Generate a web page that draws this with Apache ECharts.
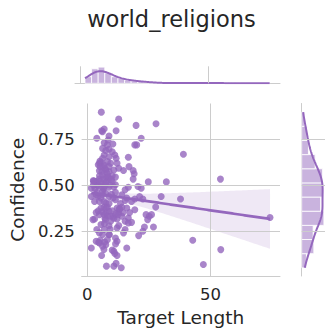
<!DOCTYPE html>
<html><head><meta charset="utf-8">
<script src="https://cdn.jsdelivr.net/npm/echarts@6/dist/echarts.min.js"></script>
<style>html,body{margin:0;padding:0;background:#fff}#c{width:332px;height:335px}</style>
</head><body><div id="c"></div>
<script>
const chartTitle = 'world_religions';
const xLabel = 'Target Length';
const yLabel = 'Confidence';
const xTicks = [0, 50];
const yTicks = [0.25, 0.50, 0.75];

const targetLength = [
5.73,12.77,19.81,27.89,5.86,6.90,11.72,8.85,3.90,21.89,
6.90,8.20,10.42,19.29,20.07,6.25,7.55,10.16,8.85,6.90,
8.85,11.20,11.72,16.68,38.98,6.25,5.59,8.20,9.51,12.11,
16.94,8.85,6.90,4.94,7.55,8.85,12.77,14.72,18.63,19.03,
10.81,6.25,10.16,11.46,4.94,8.85,18.63,7.55,3.64,5.59,
7.55,10.16,11.46,16.68,24.76,32.07,53.98,21.89,1.68,4.29,
6.90,8.85,20.59,1.68,3.64,6.25,8.85,11.46,14.07,15.37,
16.03,19.29,22.55,29.98,37.81,21.24,4.94,7.55,11.46,17.98,
27.76,15.37,5.59,8.20,12.11,14.07,16.03,19.29,8.85,12.77,
3.64,4.94,8.20,14.07,16.68,23.85,25.16,26.07,2.99,6.90,
2.33,9.51,12.11,15.37,16.68,24.50,5.59,8.85,17.98,3.90,
12.11,15.37,23.20,26.85,22.55,6.90,6.25,8.85,14.72,20.85,
42.76,4.94,3.64,4.94,8.20,11.46,12.11,1.68,7.55,4.68,
6.25,10.16,10.81,16.03,11.20,12.11,5.86,54.11,7.81,10.81,
11.72,13.81,47.06,74.06,
6.2,8.5,
5.2,6.5,7.2,5.0,5.2,4.5,8.0,6.0,
5.0,6.8,7.9,9.2,4.2,5.8,6.6,7.3,8.5,9.8,10.8,2.6,3.0,5.3,2.5,3.2,2.5,
4.0,5.5,6.8,7.5,8.9,9.8,10.5,4.3,3.0,13.5,6.2,
13.2,4.5,10.5,6.0,6.8,7.2,7.6,7.7,9.5,10.2,10.8,11.6,13.0,14.5,12.5,17.2,7.4,
12.8,7.0,9.3,9.0,
5.3,6.8,11.5,7.1
];
const confidence = [
0.896,0.858,0.824,0.833,0.795,0.804,0.795,0.766,0.754,0.754,
0.730,0.718,0.723,0.718,0.718,0.699,0.687,0.681,0.694,0.663,
0.654,0.663,0.645,0.651,0.667,0.645,0.622,0.627,0.618,0.618,
0.600,0.600,0.609,0.577,0.582,0.573,0.591,0.579,0.579,0.561,
0.582,0.555,0.550,0.543,0.532,0.537,0.532,0.543,0.519,0.510,
0.514,0.519,0.501,0.488,0.517,0.517,0.532,0.483,0.483,0.496,
0.488,0.488,0.492,0.438,0.447,0.447,0.438,0.460,0.447,0.474,
0.429,0.424,0.424,0.438,0.424,0.438,0.411,0.402,0.420,0.411,
0.380,0.416,0.375,0.380,0.375,0.380,0.375,0.366,0.357,0.351,
0.351,0.339,0.333,0.330,0.321,0.339,0.330,0.339,0.315,0.339,
0.312,0.303,0.315,0.303,0.294,0.312,0.285,0.279,0.297,0.258,
0.267,0.258,0.272,0.272,0.249,0.258,0.231,0.231,0.240,0.225,
0.200,0.240,0.194,0.185,0.203,0.212,0.194,0.158,0.176,0.189,
0.167,0.146,0.140,0.158,0.128,0.117,0.117,0.149,0.059,0.059,
0.074,0.050,0.068,0.323,
0.79,0.745,
0.63,0.60,0.59,0.62,0.60,0.61,0.565,0.575,
0.55,0.53,0.52,0.50,0.50,0.49,0.48,0.50,0.545,0.53,0.49,0.52,0.52,0.52,0.525,0.48,0.50,
0.46,0.43,0.41,0.455,0.40,0.45,0.43,0.44,0.41,0.40,0.465,
0.37,0.36,0.33,0.355,0.38,0.32,0.35,0.375,0.33,0.36,0.32,0.345,0.37,0.35,0.34,0.35,0.31,
0.28,0.29,0.26,0.23,
0.20,0.15,0.18,0.19
];

const PURPLE = '#9467bd';
const GRID = '#cccccc';
const TEXT = '#262626';
const FONT = 'DejaVu Sans';

const X_MIN = -2.234, X_MAX = 78.1;
const Y_MIN = 0.0055, Y_MAX = 0.943;

// ---- statistics derived from the data ----
function mean(a){return a.reduce((s,v)=>s+v,0)/a.length;}
function std(a){const m=mean(a);return Math.sqrt(a.reduce((s,v)=>s+(v-m)*(v-m),0)/(a.length-1));}
function percentile(s,p){const i=(s.length-1)*p;const lo=Math.floor(i),hi=Math.ceil(i);return s[lo]+(s[hi]-s[lo])*(i-lo);}
function autoHist(arr){
  const s=[...arr].sort((a,b)=>a-b);const n=s.length;const mn=s[0],mx=s[n-1];const range=mx-mn;
  const sturges=range/(Math.log2(n)+1);
  const iqr=percentile(s,0.75)-percentile(s,0.25);
  const fd=2*iqr*Math.pow(n,-1/3);
  const w=fd>0?Math.min(fd,sturges):sturges;
  const nb=Math.ceil(range/w);
  const bw=range/nb;
  const counts=new Array(nb).fill(0);
  arr.forEach(v=>{let k=Math.floor((v-mn)/range*nb);if(k>=nb)k=nb-1;counts[k]++;});
  const bins=counts.map((c,i)=>[mn+i*bw,mn+(i+1)*bw,c]);
  const h=std(arr)*Math.pow(n,-0.2);
  const kde=[];
  for(let g=0;g<200;g++){
    const v=mn+range*g/199;let d=0;
    for(const xi of arr){const z=(v-xi)/h;d+=Math.exp(-0.5*z*z);}
    d=d/(n*h*Math.sqrt(2*Math.PI));
    kde.push([v,d*n*bw]);
  }
  const maxC=Math.max(...counts), maxK=Math.max(...kde.map(p=>p[1]));
  return {bins,kde,top:Math.max(maxC,maxK)*1.05};
}
const hx=autoHist(targetLength), hy=autoHist(confidence);

// regression with 95% CI
const n=targetLength.length;
const mx=mean(targetLength), my=mean(confidence);
let sxx=0,sxy=0;
for(let i=0;i<n;i++){sxx+=(targetLength[i]-mx)**2;sxy+=(targetLength[i]-mx)*(confidence[i]-my);}
const slope=sxy/sxx, icpt=my-slope*mx;
let sse=0;for(let i=0;i<n;i++){sse+=(confidence[i]-(icpt+slope*targetLength[i]))**2;}
const sres=Math.sqrt(sse/(n-2));
const tval=1.972;
const xmin=Math.min(...targetLength), xmax=Math.max(...targetLength);
const gx=[],fit=[],upper=[],lower=[];
for(let i=0;i<100;i++){
  const x=xmin+(xmax-xmin)*i/99;const yh=icpt+slope*x;
  const se=sres*Math.sqrt(1/n+(x-mx)**2/sxx);
  gx.push(x);fit.push(yh);upper.push(yh+tval*se);lower.push(yh-tval*se);
}

const chart=echarts.init(document.getElementById('c'),null,{renderer:'svg'});
const gridMark=(data)=>({silent:true,symbol:['none','none'],label:{show:false},animation:false,
  lineStyle:{type:'solid',color:GRID,width:1},emphasis:{disabled:true},data});

chart.setOption({
  animation:false,
  grid:[
    {left:75,top:103.5,width:205,height:172.5},
    {left:75,top:66.3,width:205,height:17},
    {left:301.7,top:103.5,width:23.3,height:172.5}
  ],
  xAxis:[
    {gridIndex:0,type:'value',min:X_MIN,max:X_MAX,
     axisLine:{show:true,onZero:false,lineStyle:{color:GRID,width:1}},
     axisTick:{show:false},splitLine:{show:false},
     axisLabel:{customValues:xTicks,fontSize:16.5,color:TEXT,fontFamily:FONT,margin:10},
     name:xLabel,nameLocation:'middle',nameGap:31,
     nameTextStyle:{fontSize:18.5,color:TEXT,fontFamily:FONT}},
    {gridIndex:1,type:'value',min:X_MIN,max:X_MAX,
     axisLine:{show:true,onZero:false,lineStyle:{color:GRID,width:1}},
     axisTick:{show:false},splitLine:{show:false},axisLabel:{show:false}},
    {gridIndex:2,type:'value',min:0,max:hy.top,show:false}
  ],
  yAxis:[
    {gridIndex:0,type:'value',min:Y_MIN,max:Y_MAX,
     axisLine:{show:false},axisTick:{show:false},splitLine:{show:false},
     axisLabel:{customValues:yTicks,formatter:v=>v.toFixed(2),fontSize:16.5,color:TEXT,fontFamily:FONT,margin:7},
     name:yLabel,nameLocation:'middle',nameGap:50,nameRotate:90,
     nameTextStyle:{fontSize:18.5,color:TEXT,fontFamily:FONT}},
    {gridIndex:1,type:'value',min:0,max:hx.top,show:false},
    {gridIndex:2,type:'value',min:Y_MIN,max:Y_MAX,
     axisLine:{show:true,onZero:false,lineStyle:{color:GRID,width:1}},
     axisTick:{show:false},splitLine:{show:false},axisLabel:{show:false}}
  ],
  graphic:[{type:'text',x:171.5,y:18.5,
    style:{text:chartTitle,fontSize:22.5,fill:TEXT,fontFamily:FONT,align:'center',verticalAlign:'middle'}}],
  series:[
    {type:'line',xAxisIndex:0,yAxisIndex:0,data:[[X_MIN,Y_MIN]],showSymbol:false,lineStyle:{opacity:0},z:1,
     markLine:gridMark(xTicks.map(v=>({xAxis:v})).concat(yTicks.map(v=>({yAxis:v}))))},
    {type:'line',xAxisIndex:1,yAxisIndex:1,data:[[X_MIN,0]],showSymbol:false,lineStyle:{opacity:0},z:1,
     markLine:gridMark(xTicks.map(v=>({xAxis:v})))},
    {type:'line',xAxisIndex:2,yAxisIndex:2,data:[[0,Y_MIN]],showSymbol:false,lineStyle:{opacity:0},z:1,
     markLine:gridMark(yTicks.map(v=>({yAxis:v})))},
    {type:'scatter',xAxisIndex:0,yAxisIndex:0,z:3,
     data:targetLength.map((x,i)=>[x,confidence[i]]),symbolSize:7,
     itemStyle:{color:PURPLE,opacity:0.8},emphasis:{disabled:true}},
    {type:'custom',xAxisIndex:0,yAxisIndex:0,z:4,data:[[gx[0],fit[0]]],
     renderItem:(params,api)=>{
       const pts=[];
       for(let i=0;i<gx.length;i++)pts.push(api.coord([gx[i],upper[i]]));
       for(let i=gx.length-1;i>=0;i--)pts.push(api.coord([gx[i],lower[i]]));
       return {type:'polygon',shape:{points:pts},style:{fill:'rgba(148,103,189,0.15)'}};
     }},
    {type:'line',xAxisIndex:0,yAxisIndex:0,z:5,data:gx.map((x,i)=>[x,fit[i]]),
     showSymbol:false,lineStyle:{color:PURPLE,width:2.7},emphasis:{disabled:true}},
    {type:'custom',xAxisIndex:1,yAxisIndex:1,z:3,data:hx.bins,
     renderItem:(params,api)=>{
       const p0=api.coord([api.value(0),0]),p1=api.coord([api.value(1),api.value(2)]);
       return {type:'rect',shape:{x:p0[0],y:p1[1],width:p1[0]-p0[0],height:p0[1]-p1[1]},
         style:{fill:'rgba(148,103,189,0.5)',stroke:'#ffffff',lineWidth:0.8}};
     }},
    {type:'line',xAxisIndex:1,yAxisIndex:1,z:4,data:hx.kde,showSymbol:false,
     lineStyle:{color:PURPLE,width:2},emphasis:{disabled:true}},
    {type:'custom',xAxisIndex:2,yAxisIndex:2,z:3,data:hy.bins.map(b=>[b[2],b[0],b[1]]),
     renderItem:(params,api)=>{
       const p0=api.coord([0,api.value(1)]),p1=api.coord([api.value(0),api.value(2)]);
       return {type:'rect',shape:{x:p0[0],y:p1[1],width:p1[0]-p0[0],height:p0[1]-p1[1]},
         style:{fill:'rgba(148,103,189,0.5)',stroke:'#ffffff',lineWidth:0.8}};
     }},
    {type:'line',xAxisIndex:2,yAxisIndex:2,z:4,data:hy.kde.map(p=>[p[1],p[0]]),showSymbol:false,
     lineStyle:{color:PURPLE,width:2},emphasis:{disabled:true}}
  ]
});
</script></body></html>
